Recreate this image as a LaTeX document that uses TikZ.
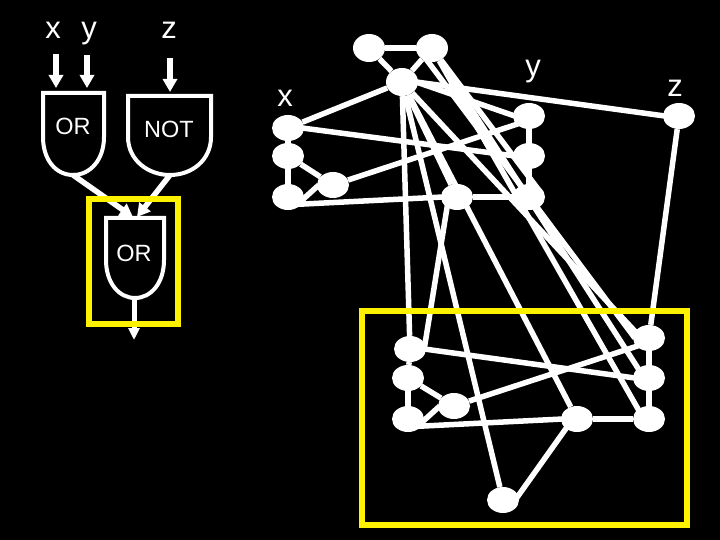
\documentclass[tikz,border=0pt]{standalone}
\usepackage{fontspec}
\setmainfont{Liberation Sans}
\usetikzlibrary{shapes.geometric,arrows.meta}
\tikzset{
 vtx/.style={ellipse,fill=white,draw=none,inner sep=0pt,minimum width=32pt,minimum height=26pt},
 edge/.style={draw=white,line width=5.5pt},
 gate/.style={draw=white,line width=4pt,line join=miter},
 frame/.style={draw=yellow,line width=6.5pt},
 wire/.style={draw=white,line width=6pt,-{Triangle[width=14pt,length=13pt]}},
 wireb/.style={draw=white,line width=5.5pt,-{Triangle[width=14pt,length=13pt]}},
 wirec/.style={draw=white,line width=5pt,-{Triangle[width=11pt,length=12pt]}},
 big/.style={text=white,inner sep=0pt,anchor=base,font=\fontsize{31}{36}\selectfont},
 small/.style={text=white,inner sep=0pt,anchor=base,font=\fontsize{23.5}{26}\selectfont},
}
\begin{document}
\begin{tikzpicture}[x=1pt,y=-1pt]
\fill[black] (0,0) rectangle (720,540);
\useasboundingbox (0,0) rectangle (720,540);
% top graph vertices
\node[vtx,minimum height=28pt] (a1) at (369,48) {};
\node[vtx,minimum height=28pt] (a2) at (432,48) {};
\node[vtx,minimum height=28pt] (t) at (402,82) {};
\node[vtx] (x1) at (288,128) {};
\node[vtx] (x2) at (288,156) {};
\node[vtx] (x3) at (288,197) {};
\node[vtx] (m) at (333,185) {};
\node[vtx] (y1) at (529,116) {};
\node[vtx] (y2) at (529,156) {};
\node[vtx] (y3) at (529,197) {};
\node[vtx] (q) at (457,197) {};
\node[vtx] (zz) at (679,116) {};
% bottom graph vertices
\node[vtx] (b1) at (410,349) {};
\node[vtx] (b2) at (408,378) {};
\node[vtx] (b3) at (408,419) {};
\node[vtx] (bm) at (454,406) {};
\node[vtx] (c1) at (649,338) {};
\node[vtx] (c2) at (649,378) {};
\node[vtx] (c3) at (649,419) {};
\node[vtx] (bq) at (577,419) {};
\node[vtx] (s) at (503,500) {};
% edges between centres
\foreach \p/\r in {a1/a2,a1/t,a2/t,t/x1,x1/x2,x2/x3,x2/m,q/y3,y1/y2,y2/y3,t/q,
 b1/b2,b2/b3,b2/bm,bq/c3,c1/c2,c2/c3,zz/c1,t/b1,t/s,t/bq}
 \draw[edge] (\p) -- (\r);
% edges attached off-centre
\draw[edge] ([xshift=-2pt]t.east) -- ([xshift=2pt]zz.west);
\draw[edge] ([xshift=-2pt]t.east) -- ([xshift=2pt]y1.west);
\draw[edge] ([xshift=-2pt]x1.east) -- ([xshift=2pt]y2.west);
\draw[edge] ([xshift=2pt]m.west) -- ([xshift=-2pt,yshift=2pt]x3.south east);
\draw[edge] (m) -- ([xshift=2pt,yshift=2pt]y1.south west);
\draw[edge] ([xshift=-2pt,yshift=2pt]x3.south east) -- ([xshift=2pt]q.west);
\draw[edge] ([xshift=2pt]bm.west) -- ([xshift=-2pt,yshift=2pt]b3.south east);
\draw[edge] (bm) -- ([xshift=2pt,yshift=2pt]c1.south west);
\draw[edge] ([xshift=-2pt]b1.east) -- ([xshift=2pt]c2.west);
\draw[edge] ([xshift=-2pt,yshift=2pt]b3.south east) -- ([xshift=2pt]bq.west);
\draw[edge] ([xshift=2pt,yshift=2pt]bq.south west) -- ([xshift=-4pt]s.east);
\draw[edge] ([xshift=2pt,yshift=2pt]q.south west) -- ([xshift=-2pt]b1.east);
\draw[edge] ([xshift=2pt]a2.west) -- ([xshift=2pt]c1.west);
\draw[edge] (a2) -- ([xshift=2pt,yshift=-2pt]c2.north west);
\draw[edge] (a2) -- ([xshift=2pt,yshift=-2pt]c3.north west);
\draw[edge] (a2) -- ([xshift=-2pt,yshift=-2pt]y3.north east);
\draw[edge] (t) -- ([xshift=2pt]c1.160);
% labels of graph
\node[big] (lx) at (285,107) {x};
\node[big] (ly) at (533,77) {y};
\node[big] (lz) at (675,97) {z};
\node[big] (tx) at (53,39) {x};
\node[big] (ty) at (89,39) {y};
\node[big] (tz) at (169,39) {z};
% gates
\draw[gate] (43,93) -- (104,93) -- (104,137) .. controls (104,160) and (90,175) .. (73,175) .. controls (56,175) and (43,160) .. (43,137) -- cycle;
\draw[gate] (128,96) -- (211,96) -- (211,137) .. controls (211,160) and (192,175) .. (170,175) .. controls (148,175) and (128,160) .. (128,137) -- cycle;
\draw[gate] (106,218) -- (164,218) -- (164,260) .. controls (164,283) and (151,298) .. (135,298) .. controls (119,298) and (106,283) .. (106,260) -- cycle;
\node[small] (g1) at (73,135) {OR};
\node[small] (g2) at (169,138) {NOT};
\node[small] (g3) at (134,261) {OR};
% wires
\coordinate (ax) at (56,54); \coordinate (bx) at (56,88);
\coordinate (ay) at (87,55); \coordinate (by) at (87,88);
\coordinate (az) at (170,58); \coordinate (bz) at (170,92);
\coordinate (o1) at (73,175); \coordinate (o2) at (170,175);
\coordinate (i1) at (133,217); \coordinate (i2) at (137,217);
\coordinate (o3) at (134,298); \coordinate (e3) at (134,340);
\draw[wire] (ax) -- (bx);
\draw[wire] (ay) -- (by);
\draw[wire] (az) -- (bz);
\draw[wireb] (o1) -- (i1);
\draw[wireb] (o2) -- (i2);
\draw[wirec] (o3) -- (e3);
% frames
\draw[frame] (89,199) rectangle (178,324);
\draw[frame] (362,311) rectangle (687,525);
\end{tikzpicture}
\end{document}
